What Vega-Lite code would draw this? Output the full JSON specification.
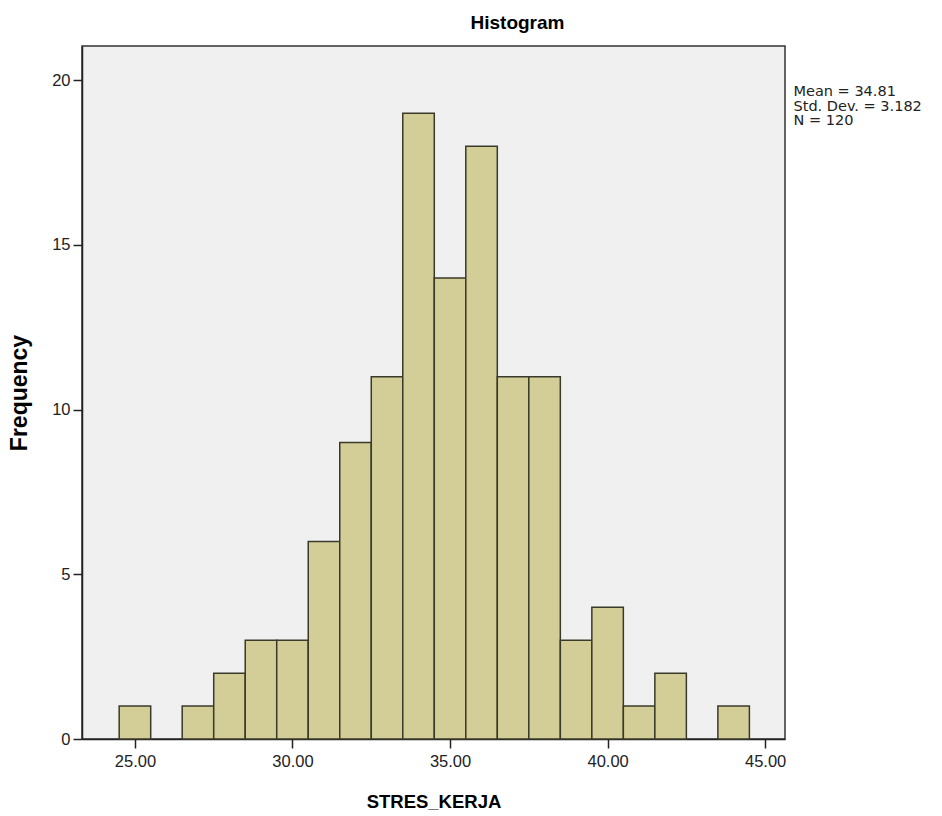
{
  "$schema": "https://vega.github.io/schema/vega-lite/v6.json",
  "width": 703,
  "height": 693,
  "autosize": "none",
  "padding": {"left": 82, "top": 46, "right": 157, "bottom": 77},
  "background": "white",
  "config": {
    "font": "Liberation Sans",
    "view": {"fill": "#f0f0f0", "stroke": "#333333", "strokeWidth": 1.5},
    "axis": {"grid": false}
  },
  "title": {
    "text": "Histogram",
    "fontSize": 19,
    "fontWeight": "bold",
    "color": "#000000",
    "anchor": "middle",
    "dx": 84,
    "offset": 13
  },
  "layer": [
    {
      "data": {
        "values": [
          {"bin_start": 24.5, "bin_end": 25.5, "count": 1},
          {"bin_start": 25.5, "bin_end": 26.5, "count": 0},
          {"bin_start": 26.5, "bin_end": 27.5, "count": 1},
          {"bin_start": 27.5, "bin_end": 28.5, "count": 2},
          {"bin_start": 28.5, "bin_end": 29.5, "count": 3},
          {"bin_start": 29.5, "bin_end": 30.5, "count": 3},
          {"bin_start": 30.5, "bin_end": 31.5, "count": 6},
          {"bin_start": 31.5, "bin_end": 32.5, "count": 9},
          {"bin_start": 32.5, "bin_end": 33.5, "count": 11},
          {"bin_start": 33.5, "bin_end": 34.5, "count": 19},
          {"bin_start": 34.5, "bin_end": 35.5, "count": 14},
          {"bin_start": 35.5, "bin_end": 36.5, "count": 18},
          {"bin_start": 36.5, "bin_end": 37.5, "count": 11},
          {"bin_start": 37.5, "bin_end": 38.5, "count": 11},
          {"bin_start": 38.5, "bin_end": 39.5, "count": 3},
          {"bin_start": 39.5, "bin_end": 40.5, "count": 4},
          {"bin_start": 40.5, "bin_end": 41.5, "count": 1},
          {"bin_start": 41.5, "bin_end": 42.5, "count": 2},
          {"bin_start": 42.5, "bin_end": 43.5, "count": 0},
          {"bin_start": 43.5, "bin_end": 44.5, "count": 1}
        ]
      },
      "transform": [{"filter": "datum.count > 0"}],
      "mark": {"type": "rect", "fill": "#d3ce97", "stroke": "#3a3a2a", "strokeWidth": 1.5},
      "encoding": {
        "x": {
          "field": "bin_start",
          "type": "quantitative",
          "scale": {"domain": [23.32, 45.63], "nice": false, "zero": false},
          "axis": {
            "title": "STRES_KERJA",
            "values": [25, 30, 35, 40, 45],
            "format": ".2f",
            "labelFontSize": 16.5,
            "labelColor": "#222222",
            "labelPadding": 5,
            "tickSize": 9,
            "tickColor": "#222222",
            "tickWidth": 1.5,
            "domainColor": "#222222",
            "domainWidth": 1.5,
            "titleFontSize": 18.5,
            "titleFontWeight": "bold",
            "titleColor": "#000000",
            "titlePadding": 23
          }
        },
        "x2": {"field": "bin_end"},
        "y": {
          "field": "count",
          "type": "quantitative",
          "scale": {"domain": [0, 21.04], "nice": false},
          "axis": {
            "title": "Frequency",
            "values": [0, 5, 10, 15, 20],
            "labelFontSize": 16.5,
            "labelColor": "#222222",
            "labelPadding": 3,
            "tickSize": 9,
            "tickColor": "#222222",
            "tickWidth": 1.5,
            "domainColor": "#222222",
            "domainWidth": 1.5,
            "titleFontSize": 23,
            "titleFontWeight": "bold",
            "titleColor": "#000000",
            "titlePadding": 20
          }
        },
        "y2": {"datum": 0}
      }
    },
    {
      "data": {"values": [{"stat": "summary"}]},
      "mark": {"type": "text", "align": "left", "baseline": "top", "font": "DejaVu Sans", "fontSize": 14.5, "lineHeight": 14.6, "fill": "#222222"},
      "encoding": {
        "x": {"datum": 45.9},
        "y": {"datum": 19.85},
        "text": {"value": ["Mean = 34.81", "Std. Dev. = 3.182", "N = 120"]}
      }
    }
  ]
}
